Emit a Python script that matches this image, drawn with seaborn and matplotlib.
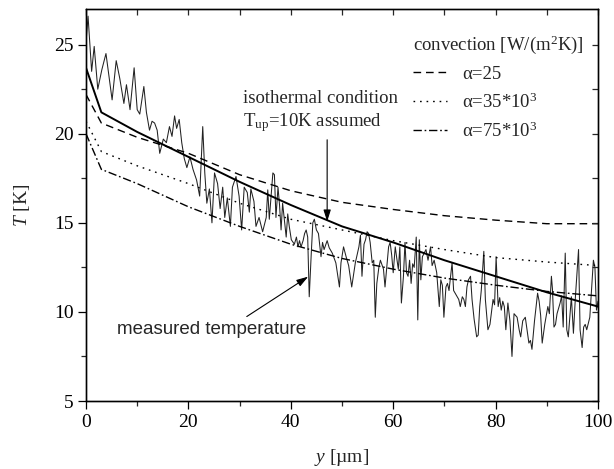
import matplotlib
matplotlib.use('Agg')
import matplotlib.pyplot as plt
from matplotlib.ticker import MultipleLocator, NullFormatter
import seaborn as sns

# -------------------------------------------------------
# Data
# -------------------------------------------------------
meas_y = [0.0, 0.4, 1.1, 1.6, 2.3, 3.1, 3.9, 5.1, 5.9, 6.6, 7.4, 7.9, 8.6, 9.4,
          10.0, 10.5, 11.3, 11.8, 12.4, 12.9, 13.4, 13.9, 14.4, 15.1, 15.7, 16.3,
          16.8, 17.3, 17.7, 18.2, 18.7, 19.2, 19.7, 20.3, 20.9, 21.6, 22.2, 22.8,
          23.2, 23.6, 24.1, 24.6, 25.1, 25.7, 26.2, 26.7, 27.1, 27.6, 28.2, 28.6,
          29.3, 29.9, 30.4, 30.9, 31.5, 31.9, 32.2, 32.8, 33.2, 33.8, 34.5, 35.2,
          35.5, 35.8, 36.1, 36.5, 36.8, 37.1, 37.5, 37.8, 38.1, 38.4, 38.8, 39.1,
          39.4, 39.7, 40.1, 40.7, 41.1, 41.4, 41.7, 42.0, 42.4, 42.7, 43.0, 43.3,
          43.6, 44.0, 44.3, 44.6, 45.0, 45.4, 45.9, 46.2, 46.5, 47.1, 47.5, 48.1,
          48.8, 49.5, 49.8, 50.3, 50.8, 51.3, 51.9, 52.6, 53.3, 53.6, 53.9, 54.3,
          54.6, 54.9, 55.2, 55.5, 55.9, 56.2, 56.5, 56.8, 57.2, 57.5, 58.1, 58.4,
          59.1, 59.4, 59.7, 60.0, 60.4, 60.7, 61.0, 61.3, 61.6, 62.0, 62.3, 62.6,
          62.9, 63.2, 63.5, 63.8, 64.1, 64.5, 64.8, 65.1, 65.4, 65.7, 66.4, 66.8,
          67.3, 67.6, 68.0, 68.5, 69.0, 69.3, 69.6, 69.9, 70.3, 70.6, 70.9, 71.2,
          71.5, 71.8, 72.2, 72.5, 72.8, 73.1, 73.5, 73.8, 74.1, 74.4, 74.7, 75.1,
          75.4, 75.8, 76.3, 76.6, 76.9, 77.2, 77.7, 78.0, 78.5, 78.9, 79.5, 79.8,
          80.1, 80.5, 80.8, 81.1, 81.4, 81.7, 82.0, 82.4, 82.8, 83.2, 83.6, 84.2,
          84.6, 84.9, 85.3, 85.8, 86.5, 86.8, 87.1, 87.6, 88.2, 88.5, 88.8, 89.1,
          89.6, 90.2, 90.5, 90.9, 91.1, 91.4, 91.7, 92.0, 92.6, 92.9, 93.2, 93.6,
          93.9, 94.2, 94.8, 95.2, 95.6, 96.2, 96.5, 96.9, 97.2, 97.5, 97.8, 98.4,
          99.1, 99.4, 99.7, 100.0]
meas_T = [25.1, 26.6, 23.5, 24.9, 22.5, 23.6, 24.5, 21.9, 24.1, 23.1, 21.7, 22.75,
          21.35, 23.7, 21.35, 21.1, 22.65, 21.2, 20.2, 20.7, 20.6, 20.2, 18.9, 19.7,
          19.5, 20.4, 19.85, 21.0, 20.3, 20.8, 19.5, 18.6, 18.1, 18.7, 18.0, 17.4,
          16.5, 20.4, 17.8, 16.1, 16.9, 15.0, 17.8, 17.2, 15.8, 17.0, 15.3, 16.4,
          14.8, 17.0, 17.6, 16.5, 14.6, 17.0, 16.7, 15.6, 16.9, 16.2, 14.8, 15.3,
          14.5, 15.3, 16.85, 15.2, 16.3, 17.8, 17.7, 15.3, 17.0, 16.0, 14.6, 16.1,
          15.0, 14.2, 15.5, 14.8, 14.05, 13.8, 14.2, 13.65, 14.0, 13.65, 14.0, 14.4,
          14.6, 14.2, 10.85, 13.3, 15.0, 15.2, 14.6, 14.4, 13.1, 13.9, 13.5, 14.0,
          13.6, 13.3, 12.75, 11.4, 12.75, 13.65, 13.1, 12.6, 11.4, 12.75, 13.65, 14.3,
          12.0, 13.8, 14.05, 14.5, 14.4, 13.9, 12.75, 12.9, 9.7, 11.6, 12.5, 12.9,
          12.4, 11.4, 13.65, 13.9, 13.2, 12.2, 13.65, 13.0, 12.4, 13.65, 10.5, 12.0,
          13.9, 12.2, 12.0, 12.9, 11.6, 12.7, 12.5, 14.2, 9.55, 14.05, 11.8, 13.1,
          13.5, 12.9, 13.65, 12.6, 12.9, 12.2, 10.3, 11.8, 11.5, 9.7, 11.4, 11.6,
          11.2, 12.0, 12.75, 11.2, 11.0, 10.85, 10.7, 10.3, 10.85, 10.7, 10.3, 11.4,
          11.8, 12.0, 10.7, 9.6, 8.6, 8.7, 10.3, 11.2, 13.4, 10.7, 9.0, 9.3,
          10.7, 10.4, 13.1, 10.3, 10.8, 10.1, 10.6, 10.3, 9.0, 10.5, 9.5, 7.5,
          9.9, 9.7, 9.0, 8.6, 9.5, 9.7, 8.25, 8.4, 7.9, 9.5, 11.05, 10.6,
          9.8, 8.25, 9.3, 10.3, 9.9, 12.0, 11.3, 9.15, 9.3, 9.9, 10.5, 10.9,
          9.15, 13.3, 9.0, 8.6, 10.85, 8.8, 10.9, 13.5, 9.0, 8.0, 9.15, 9.3,
          9.0, 9.7, 12.9, 12.5, 10.1, 10.6]

# model curves on a common grid
model_y = [0, 3, 10, 20, 30, 40, 50, 60, 70, 80, 90, 100]
T_isothermal = [23.7, 21.2, 20.1, 18.7, 17.3, 16.0, 14.8, 13.9, 12.9, 12.0, 11.1, 10.3]
T_alpha25 = [22.2, 20.6, 19.8, 18.9, 17.7, 16.8, 16.15, 15.75, 15.4, 15.15, 14.95, 14.95]
T_alpha35e3 = [20.7, 19.0, 18.2, 17.2, 16.1, 15.2, 14.6, 14.0, 13.5, 13.05, 12.8, 12.6]
T_alpha75e3 = [20.0, 18.0, 17.2, 15.9, 14.8, 13.8, 13.0, 12.4, 11.9, 11.5, 11.15, 10.9]

legend_labels = ["α=25", r"α=35*10$^3$", r"α=75*10$^3$"]

# -------------------------------------------------------
# Style
# -------------------------------------------------------
sns.set_style("ticks")
plt.rcParams['font.family'] = ['Liberation Serif', 'DejaVu Serif']
plt.rcParams['mathtext.fontset'] = 'custom'
plt.rcParams['mathtext.rm'] = 'Liberation Serif'
plt.rcParams['mathtext.it'] = 'Liberation Serif:italic'
plt.rcParams['axes.linewidth'] = 0.9
plt.rcParams['axes.edgecolor'] = 'black'

FS = 13.5

fig = plt.figure(figsize=(6.14, 4.69), dpi=100)
ax = fig.add_axes([86 / 614, 1 - 401 / 469, 512 / 614, 392 / 469])

sns.lineplot(x=meas_y, y=meas_T, ax=ax, color='#222222', lw=0.75,
             estimator=None, sort=False, legend=False)
sns.lineplot(x=model_y, y=T_isothermal, ax=ax, color='black', lw=1.4,
             estimator=None, legend=False)
sns.lineplot(x=model_y, y=T_alpha25, ax=ax, color='black', lw=1.0,
             linestyle=(0, (5.5, 3.5)), estimator=None, legend=False, label=legend_labels[0])
sns.lineplot(x=model_y, y=T_alpha35e3, ax=ax, color='black', lw=1.0,
             linestyle=(0, (1.2, 3.5)), estimator=None, legend=False, label=legend_labels[1])
sns.lineplot(x=model_y, y=T_alpha75e3, ax=ax, color='black', lw=1.0,
             linestyle=(0, (6, 2, 1.2, 2)), estimator=None, legend=False, label=legend_labels[2])

ax.set_xlim(0, 100)
ax.set_ylim(5, 27)
ax.xaxis.set_major_locator(MultipleLocator(20))
ax.xaxis.set_minor_locator(MultipleLocator(10))
ax.yaxis.set_major_locator(MultipleLocator(5))
ax.yaxis.set_minor_locator(MultipleLocator(2.5))
ax.tick_params(which='major', direction='out', length=6, width=0.9,
               labelsize=14, pad=3, colors='black')
ax.tick_params(which='minor', direction='out', length=3.5, width=0.9)

# inward ticks on top and right (twin axes)
ax_r = ax.twinx()
ax_r.set_ylim(5, 27)
ax_r.yaxis.set_major_locator(MultipleLocator(2.5))
ax_r.yaxis.set_major_formatter(NullFormatter())
ax_r.tick_params(axis='y', direction='in', length=4, width=0.9)
ax_t = ax.twiny()
ax_t.set_xlim(0, 100)
ax_t.xaxis.set_major_locator(MultipleLocator(10))
ax_t.xaxis.set_major_formatter(NullFormatter())
ax_t.tick_params(axis='x', direction='in', length=4.5, width=0.9)

ax.set_xlabel(r"$y$ [µm]", fontsize=14, labelpad=12)
ax.set_ylabel(r"$T$ [K]", fontsize=14, labelpad=16)

# annotations
ax.text(30.7, 21.74, "isothermal condition", fontsize=FS, ha='left', va='baseline')
ax.text(30.7, 20.4, r"T$_{\mathrm{up}}$=10K assumed", fontsize=FS, ha='left', va='baseline')
ax.annotate('', xy=(47.1, 15.07), xytext=(47.1, 19.66),
            arrowprops=dict(arrowstyle='-|>,head_length=0.7,head_width=0.22',
                            color='black', lw=0.8, shrinkA=0, shrinkB=0))
ax.text(6.05, 8.99, "measured temperature", fontsize=FS, ha='left', va='center',
        family=['Liberation Sans', 'DejaVu Sans'])
ax.annotate('', xy=(43.4, 11.98), xytext=(31.4, 9.74),
            arrowprops=dict(arrowstyle='-|>,head_length=0.7,head_width=0.22',
                            color='black', lw=0.8, shrinkA=0, shrinkB=0))

handles, labels = ax.get_legend_handles_labels()
leg = ax_t.legend(handles, labels, title=r"convection [W/(m$^2$K)]", loc='upper right',
                  bbox_to_anchor=(0.995, 0.965), frameon=False, fontsize=FS,
                  title_fontsize=FS, alignment='left', handlelength=1.8,
                  handletextpad=0.8, labelspacing=0.5, borderaxespad=0.2)

fig.savefig("out.png", dpi=100)
